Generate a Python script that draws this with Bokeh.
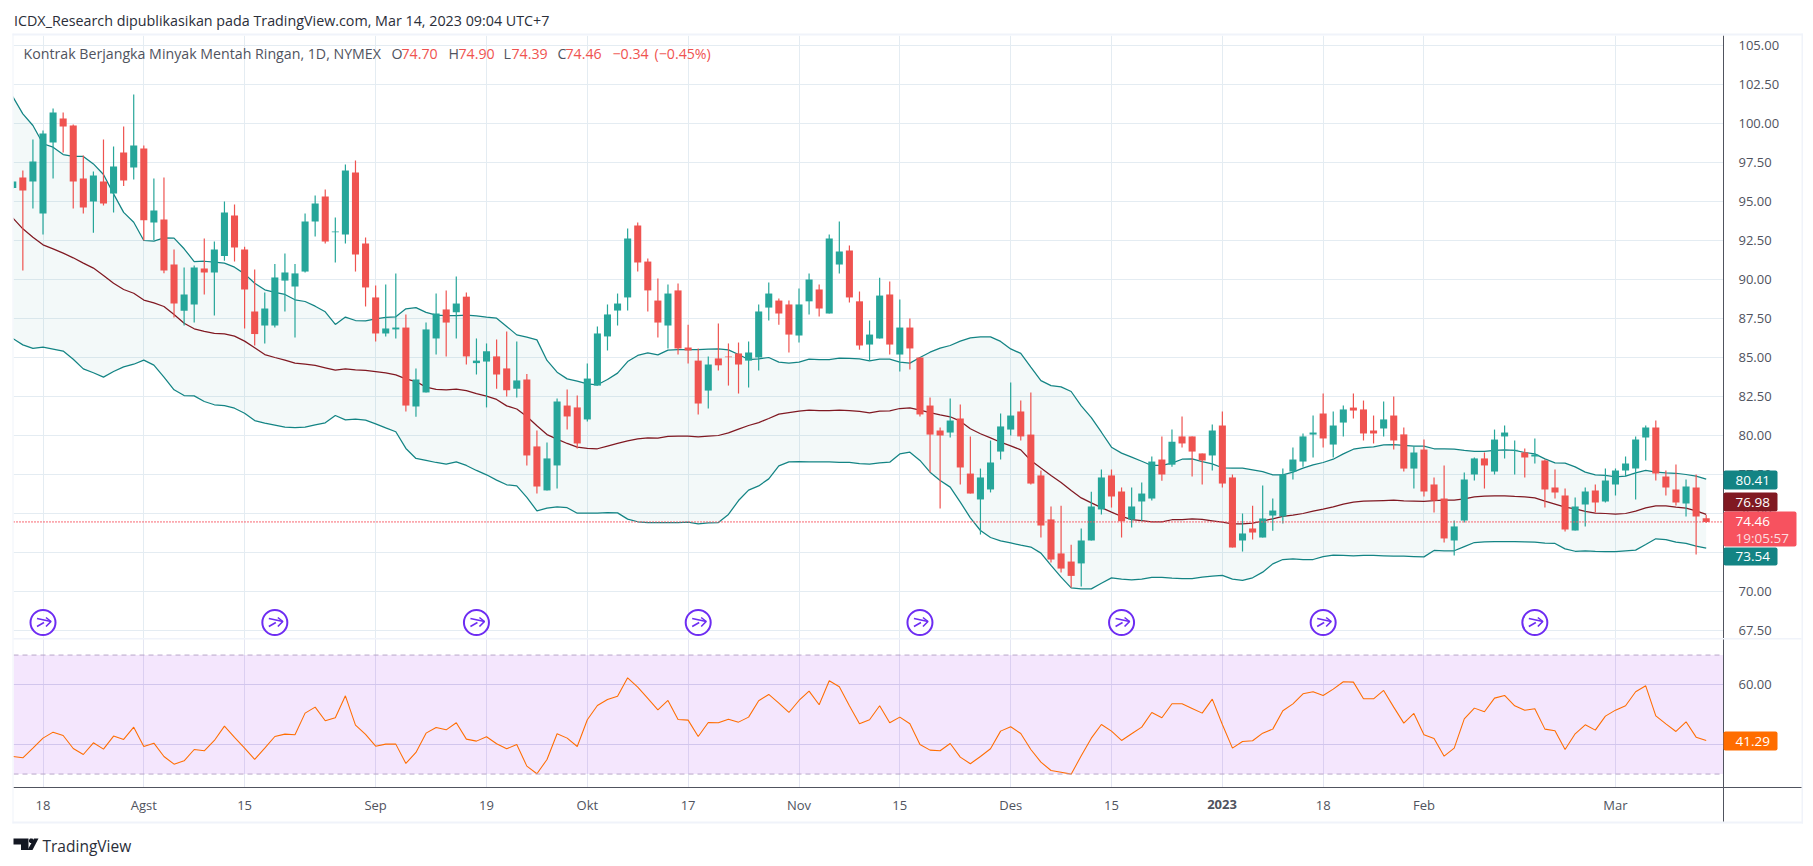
from bokeh.embed import file_html
from bokeh.resources import INLINE
from bokeh.plotting import figure
from bokeh.layouts import column
from bokeh.models import FixedTicker, Label, BoxAnnotation, Span, PolyAnnotation, Range1d, NumeralTickFormatter

# ---------- data ----------
first_index = -3
opens = [95.86,96.54,96.28,94.23,98.78,100.32,99.87,96.47,95.0,96.28,95.51,98.14,97.18,98.4,93.65,93.85,90.96,88.0,88.4,90.7,
 90.45,91.5,94.1,91.92,87.95,87.05,87.05,89.93,89.55,90.51,93.72,95.32,93.03,92.89,96.86,92.31,88.85,86.54,86.8,86.92,
 81.86,82.76,86.22,88.08,87.9,88.9,84.64,84.74,85.07,84.3,83.0,83.59,79.3,76.48,78.08,81.92,81.8,81.03,83.2,86.35,
 88.01,88.85,93.46,91.15,88.65,87.05,89.3,85.64,84.8,82.88,84.94,85.06,85.26,84.8,85.0,88.2,88.65,88.4,86.41,88.6,
 89.36,87.82,90.96,91.86,88.6,85.83,86.22,89.04,85.19,86.92,85.0,81.92,80.32,80.19,81.09,77.56,75.9,76.54,78.97,80.38,
 81.54,80.06,77.44,74.62,72.44,71.92,71.8,73.27,75.26,77.44,76.41,74.62,75.77,75.96,78.46,78.13,
 79.94,79.94,78.85,78.72,80.64,77.31,73.27,74.04,73.46,74.87,74.81,77.69,78.33,80.06,81.41,79.42,80.83,81.79,81.67,80.32,
 80.45,81.28,80.07,77.88,79.1,76.86,75.96,73.27,74.55,77.5,78.53,77.69,79.94,79.04,78.91,78.65,78.4,76.67,76.15,73.91,
 75.58,76.47,75.77,76.86,77.76,77.88,79.87,80.51,77.37,76.54,75.64,76.67,74.70]
closes = [96.28,95.70,97.56,99.36,100.70,99.81,96.28,94.62,96.67,94.87,97.24,96.35,98.59,93.8,94.42,90.58,88.46,89.04,90.77,90.45,
 91.92,94.3,92.05,89.36,86.5,88.14,90.13,90.45,90.39,93.72,94.87,92.44,93.08,96.99,91.6,89.49,86.54,86.86,86.92,81.92,
 83.59,86.8,87.82,87.24,88.46,85.07,84.8,85.4,83.91,82.9,83.53,78.72,76.73,78.53,82.18,81.22,79.49,83.65,86.54,87.76,
 88.46,92.63,91.09,89.3,87.24,89.1,85.58,85.45,82.05,84.55,84.5,85.02,84.55,85.32,87.95,89.1,87.82,86.47,88.4,90.0,
 88.14,92.63,91.8,88.85,85.77,86.47,88.97,85.83,86.92,85.58,81.35,80.06,80.0,80.96,77.95,76.28,77.31,78.27,80.58,81.28,
 79.94,76.92,74.23,72.05,71.47,71.0,73.27,75.45,77.31,76.09,74.5,75.45,76.28,78.33,77.5,79.6,
 79.49,78.97,78.4,80.32,76.92,72.82,73.72,73.78,74.68,75.19,77.5,78.46,79.94,80.19,79.81,80.64,81.67,81.6,80.13,80.13,
 81.03,79.68,77.88,78.91,76.41,75.83,73.4,74.17,77.18,78.53,78.08,79.74,80.19,79.08,78.59,78.78,76.54,76.35,73.97,75.45,
 76.41,75.71,77.12,77.76,78.2,79.74,80.51,77.56,76.67,75.71,76.73,74.81,74.46]
highs = [96.3,96.99,98.97,99.55,100.96,100.70,99.94,97.95,96.92,98.97,98.53,99.81,101.86,98.59,96.47,96.54,91.92,90.77,90.9,92.63,
 92.44,95.0,94.8,92.1,90.64,89.17,91.0,91.67,91.0,94.23,95.38,95.77,93.97,97.37,97.63,92.69,89.62,89.68,90.39,87.75,
 84.3,87.24,89.1,89.3,90.2,89.17,86.22,85.9,86.15,86.67,86.03,83.95,80.32,79.55,82.37,82.95,82.57,84.62,86.99,88.4,
 89.1,93.27,93.65,91.35,90.06,89.68,89.74,87.1,85.58,85.06,87.18,85.9,85.96,86.03,88.4,89.8,88.78,88.65,89.42,90.38,
 89.68,92.88,93.72,92.18,89.23,87.37,90.12,89.87,88.72,87.5,85.0,82.44,80.51,82.37,81.99,79.94,77.88,79.68,81.41,83.4,
 82.24,82.76,77.76,75.45,75.5,73.0,74.04,76.4,77.82,77.82,76.67,76.67,76.99,78.65,79.94,80.38,
 81.22,79.94,78.85,80.7,81.54,77.5,75.0,75.5,76.8,75.96,77.88,79.23,80.13,81.28,82.69,81.54,81.92,82.69,82.24,81.28,
 82.18,82.5,80.51,79.3,79.74,77.31,78.08,74.55,77.63,78.59,78.91,80.38,80.64,79.68,79.17,79.81,78.46,77.82,76.6,76.03,
 76.67,76.86,77.88,77.88,78.65,79.94,80.64,80.96,77.76,78.14,77.18,77.5,74.90]
lows = [95.8,90.58,94.55,92.89,96.47,98.14,94.55,94.23,93.0,94.74,94.3,96.0,96.41,92.5,92.54,90.4,87.56,87.05,87.24,89.04,
 87.69,91.2,91.15,86.86,85.77,85.9,86.92,87.95,86.28,90.45,92.76,92.31,91.09,92.31,90.51,88.27,86.03,86.35,86.22,81.54,
 81.2,82.76,85.2,85.07,86.22,84.55,83.91,81.8,83.0,82.5,82.44,78.08,76.28,76.48,76.6,80.39,79.17,80.9,83.2,85.45,
 87.05,88.01,90.51,87.95,86.28,85.58,85.19,84.62,81.35,81.73,84.17,83.2,82.69,83.08,84.17,87.37,87.1,85.32,85.96,87.76,
 87.63,87.82,90.38,88.52,85.5,84.8,86.22,85.19,84.1,84.23,81.22,77.63,75.32,79.87,76.86,76.28,73.65,76.35,78.46,80.0,
 79.68,76.86,73.46,71.86,71.22,70.26,70.32,73.27,74.94,75.38,73.46,74.1,74.5,75.83,77.1,78.0,
 79.23,77.37,76.86,77.76,76.67,72.82,72.56,73.33,73.46,73.9,74.36,77.18,78.0,78.59,79.23,78.59,79.94,81.09,79.68,79.49,
 79.94,79.1,77.69,76.6,76.09,75.06,73.14,72.31,74.42,77.12,76.6,77.5,78.53,77.5,77.31,78.2,75.39,75.96,73.85,73.91,
 74.17,75.06,75.71,76.15,77.37,75.9,78.4,77.12,76.15,75.51,74.81,72.37,74.39]
bb_upper = [101.73,100.62,99.87,98.7,98.48,98.01,97.89,97.89,97.41,96.73,95.49,94.3,93.67,92.5,92.46,92.67,92.65,91.97,91.15,91.17,
 91.11,91.05,90.79,90.36,89.76,89.34,89.17,89.04,88.7,88.59,88.29,87.93,87.12,87.59,87.37,87.35,87.48,87.57,87.61,88.12,
 88.2,87.89,87.71,87.69,87.69,87.71,87.67,87.59,87.52,86.99,86.45,86.3,86.13,84.81,84.06,83.63,83.48,83.31,83.25,
 83.59,84.0,84.74,85.13,85.3,85.17,85.47,85.51,85.51,85.51,85.53,85.55,85.49,85.19,84.87,84.91,85.0,84.7,84.64,84.7,
 84.89,84.87,84.87,84.96,84.94,84.91,84.79,84.89,84.89,84.7,84.64,85.0,85.34,85.6,85.77,86.05,86.26,86.32,86.32,86.03,
 85.55,85.26,84.38,83.52,83.2,83.12,82.82,81.9,81.15,80.21,79.25,78.87,78.61,78.35,78.08,78.08,78.23,
 78.48,78.5,78.33,78.18,77.93,77.91,77.91,77.8,77.69,77.48,77.48,77.65,77.91,78.12,78.27,78.48,78.82,79.12,79.23,79.27,
 79.4,79.42,79.36,79.32,79.32,79.15,79.15,79.12,79.04,78.98,78.98,79.04,79.08,79.04,78.91,78.82,78.5,78.25,78.23,77.99,
 77.65,77.48,77.44,77.35,77.39,77.61,77.76,77.65,77.61,77.58,77.5,77.39,77.2]
bb_mid = [93.95,93.25,92.71,92.22,91.96,91.69,91.39,91.05,90.73,90.26,89.76,89.36,89.12,88.68,88.5,88.27,87.76,87.2,86.84,86.67,
 86.54,86.52,86.37,86.05,85.62,85.19,85.0,84.83,84.64,84.57,84.49,84.34,84.19,84.27,84.21,84.17,84.1,84.02,83.89,83.63,
 83.46,83.1,82.95,82.93,82.97,82.88,82.69,82.52,82.31,81.9,81.7,81.22,80.62,80.06,79.77,79.49,79.25,
 79.17,79.15,79.32,79.49,79.66,79.79,79.85,79.83,79.94,79.96,79.96,79.91,79.96,80.0,80.17,80.41,80.64,80.83,81.09,81.37,
 81.47,81.56,81.62,81.6,81.6,81.62,81.6,81.54,81.45,81.56,81.58,81.73,81.77,81.62,81.47,81.32,81.2,80.92,80.43,80.11,
 79.85,79.57,79.34,79.08,78.4,77.91,77.44,76.99,76.47,76.0,75.68,75.38,75.09,74.81,74.61,74.55,74.46,74.46,74.6,
 74.6,74.66,74.62,74.53,74.44,74.34,74.34,74.38,74.51,74.66,74.81,74.89,75.0,75.15,75.28,75.43,75.6,75.73,75.79,75.81,
 75.83,75.85,75.81,75.79,75.77,75.83,75.85,75.85,75.94,76.07,76.11,76.13,76.13,76.09,76.07,76.0,75.79,75.6,75.41,75.3,
 75.13,75.02,75.0,74.96,75.0,75.15,75.36,75.49,75.49,75.41,75.34,75.17,74.94]
bb_lower = [86.22,85.81,85.58,85.66,85.54,85.41,84.89,84.27,84.02,83.74,84.1,84.4,84.57,84.83,84.51,83.74,82.93,82.56,82.54,
 82.18,81.97,81.92,81.75,81.43,80.96,80.79,80.66,80.53,80.51,80.53,80.68,80.81,81.28,81.0,81.05,80.98,80.75,80.49,80.24,
 79.17,78.53,78.4,78.27,78.16,78.31,78.08,77.76,77.48,77.14,76.84,76.77,76.03,75.17,75.34,75.43,75.37,75.02,
 75.02,75.02,75.06,75.04,74.64,74.47,74.42,74.42,74.42,74.42,74.44,74.34,74.4,74.42,74.94,75.83,76.5,76.77,77.22,78.05,
 78.31,78.33,78.31,78.31,78.31,78.27,78.27,78.2,78.16,78.25,78.29,78.82,78.93,78.4,77.65,77.12,76.69,75.73,74.72,73.91,
 73.46,73.25,73.12,72.97,72.85,72.46,71.67,70.92,70.23,70.17,70.17,70.53,70.87,70.79,70.75,70.79,70.9,70.9,70.85,
 70.83,70.83,70.92,70.98,71.03,70.79,70.71,70.88,71.24,71.77,72.05,72.09,72.05,72.05,72.24,72.33,72.31,72.29,72.31,72.31,
 72.29,72.26,72.26,72.24,72.22,72.63,72.61,72.61,72.88,73.14,73.18,73.2,73.2,73.2,73.18,73.16,73.1,73.08,72.73,72.58,
 72.61,72.58,72.56,72.56,72.61,72.65,73.01,73.38,73.32,73.16,73.08,72.91,72.78]
rsi = [35.91,35.46,38.71,42.07,44.09,42.97,38.6,36.58,40.5,38.38,42.75,41.63,45.77,39.27,40.39,35.91,33.33,34.45,38.26,37.82,
 41.29,46.11,42.3,38.71,34.9,38.71,42.63,43.42,43.19,50.48,52.49,47.9,48.91,56.3,46.44,43.31,39.38,40.06,40.06,33.56,
 37.26,43.75,45.66,44.87,47.23,41.74,41.07,42.52,40.17,38.49,39.94,32.66,30.09,34.9,43.53,42.07,39.27,48.24,53.05,55.07,
 56.19,62.35,59.22,55.41,51.6,54.73,48.35,48.12,42.63,47.34,47.23,48.46,47.45,49.13,54.62,56.75,53.84,50.7,54.73,57.87,
 53.28,61.34,59.33,52.94,46.89,48.24,52.94,47.23,49.13,
 46.89,39.94,38.04,37.82,40.28,35.69,33.45,35.91,38.49,44.43,45.88,43.64,38.26,34.0,31.2,30.64,29.97,36.14,42.07,46.67,
 44.43,41.29,43.53,45.77,50.7,48.91,53.61,53.61,52.05,50.48,55.18,46.67,38.71,40.95,41.18,43.75,45.1,51.26,53.61,56.97,
 57.65,56.41,58.54,61.01,60.9,55.29,55.29,58.1,52.49,47.12,50.36,43.19,41.96,36.02,38.71,48.57,52.16,50.92,55.52,56.41,
 52.94,51.48,51.93,45.1,44.54,38.26,43.53,46.56,44.76,49.47,51.48,52.94,57.65,59.66,49.58,46.89,44.31,47.56,42.41,41.29]

time_ticks = [0,10,20,33,44,54,64,75,85,96,106,117,127,137,156]
time_labels = ["18","Agst","15","Sep","19","Okt","17","Nov","15","Des","15","","18","Feb","Mar"]
price_ticks = [67.5,70,72.5,75,77.5,80,82.5,85,87.5,90,92.5,95,97.5,100,102.5,105]
rsi_ticks = [60, 40]
icon_index = [0,23,43,65,87,107,127,148]
last_price = 74.46

header_text = "ICDX_Research dipublikasikan pada TradingView.com, Mar 14, 2023 09:04 UTC+7"
legend_parts = [("Kontrak Berjangka Minyak Mentah Ringan, 1D, NYMEX",23,"grey"),("O",391,"grey"),("74.70",401,"red"),
                ("H",448,"grey"),("74.90",458,"red"),("L",503,"grey"),("74.39",511,"red"),("C",557,"grey"),
                ("74.46",565,"red"),("\u22120.34",612,"red"),("(\u22120.45%)",654,"red")]

# ---------- styling ----------
FONT = "Open Sans"
GRID = "#e4ecf2"
EDGE = "#f0f3fa"
DARK = "#50535e"
UP = "#26a69a"
DOWN = "#ef5350"
TEAL = "#138484"
MAROON = "#801922"
RED_TAG = "#f7525f"
ORANGE = "#ff6d00"
PURPLE = "#6d2cf2"

X0, DX = 42.5, 10.08
LEFT, RIGHT, AXISX = 13, 1803, 1723
PAGE_H = 858
def xp(px): return (px - X0) / DX
def ya(py): return 105 - (py - 45) / 15.6
def yb(py): return 60 - (py - 684.3) / 2.975

xr = Range1d(xp(LEFT), xp(AXISX))
idx = list(range(first_index, first_index + len(opens)))

def base(**kw):
    p = figure(output_backend="svg", toolbar_location=None, x_range=xr, y_axis_location="right",
               frame_width=AXISX - LEFT, min_border_left=LEFT, min_border_right=RIGHT - AXISX,
               background_fill_color="white", border_fill_color="white", outline_line_color=None, **kw)
    p.xaxis.ticker = FixedTicker(ticks=time_ticks)
    p.xgrid.ticker = FixedTicker(ticks=time_ticks)
    p.xgrid.grid_line_color = GRID
    p.ygrid.grid_line_color = GRID
    for ax in (p.yaxis[0], p.xaxis[0]):
        ax.major_tick_line_color = None
        ax.minor_tick_line_color = None
        ax.major_label_text_font = FONT
        ax.major_label_text_font_size = "13px"
        ax.major_label_text_color = DARK
        ax.axis_line_color = DARK
    p.yaxis[0].major_label_standoff = 9
    return p

# ---------- price pane ----------
pa = base(height=638, frame_height=603, min_border_top=35, min_border_bottom=0, y_range=Range1d(ya(638), ya(35)))
pa.xaxis.visible = False
pa.yaxis[0].ticker = FixedTicker(ticks=price_ticks)
pa.yaxis[0].formatter = NumeralTickFormatter(format="0.00")

pa.varea(idx, bb_lower, bb_upper, fill_color=TEAL, fill_alpha=0.05)
pa.line(idx, bb_upper, line_color=TEAL, line_width=1.25)
pa.line(idx, bb_lower, line_color=TEAL, line_width=1.25)
pa.line(idx, bb_mid, line_color=MAROON, line_width=1.25)
pa.add_layout(Span(location=last_price, dimension="width", line_color=RED_TAG, line_dash="1 2", line_width=1.6))

colors = [UP if c >= o else DOWN for o, c in zip(opens, closes)]
pa.segment(idx, highs, idx, lows, line_color=colors, line_width=1.2)
pa.vbar(idx, 0.7, [max(o, c) for o, c in zip(opens, closes)], [min(o, c) for o, c in zip(opens, closes)],
        fill_color=colors, line_color=colors, line_width=0)

icon_y = ya(622)
pa.scatter(icon_index, [icon_y] * len(icon_index), marker="circle", size=25, fill_color="white", fill_alpha=0.6,
           line_color=PURPLE, line_width=2)
for i in icon_index:
    ox = []
    oy = []
    for seg in ([(-6, -4), (8, -1)], [(3, -5), (8, -1), (3, 4)], [(-6, 4), (1, 0)]):
        ox.append([i + dx / DX for dx, dy in seg])
        oy.append([icon_y - dy / 15.6 for dx, dy in seg])
    pa.multi_line(ox, oy, line_color=PURPLE, line_width=1.6)

# ---------- RSI pane ----------
pb = base(height=PAGE_H - 638, frame_height=149, min_border_top=0, min_border_bottom=PAGE_H - 787,
          y_range=Range1d(yb(787), yb(638)))
pb.yaxis[0].ticker = FixedTicker(ticks=rsi_ticks)
pb.yaxis[0].formatter = NumeralTickFormatter(format="0.00")
pb.xaxis[0].major_label_overrides = {t: l for t, l in zip(time_ticks, time_labels)}
pb.xaxis[0].major_label_standoff = 2
pb.ygrid.grid_line_color = "#dadcee"
pb.xgrid.grid_line_color = "#e4e6f2"

pb.add_layout(BoxAnnotation(bottom=30, top=70, fill_color="#9105eb", fill_alpha=0.1, line_color=None, level="underlay"))
for lvl in (70, 30):
    pb.add_layout(Span(location=lvl, dimension="width", line_color="#b9a6c9", line_dash="5 4", line_width=1))
pb.line(idx, rsi, line_color=ORANGE, line_width=1.05)

# ---------- transparent page-sized layer: header, footer, value tags, page frame ----------
ov = figure(output_backend="svg", toolbar_location=None, width=RIGHT, height=PAGE_H,
            x_range=Range1d(0, RIGHT), y_range=Range1d(PAGE_H, 0), min_border=0,
            background_fill_alpha=0, border_fill_alpha=0, outline_line_color=None,
            margin=(-PAGE_H, 0, 0, 0), frame_align=False)
ov.axis.visible = False
ov.grid.visible = False

def text(px, py, s, color=DARK, size="13px", align="left", style="normal"):
    ov.add_layout(Label(x=px, y=py, text=s, text_color=color, text_font=FONT, text_font_size=size,
                        text_align=align, text_baseline="middle", text_font_style=style, level="overlay"))

def box(x1, x2, y1, y2, color, radius=0):
    ov.add_layout(BoxAnnotation(left=x1, right=x2, top=y1, bottom=y2, fill_color=color, fill_alpha=1,
                                line_color=None, level="overlay", border_radius=radius))

def poly(pts, color):
    ov.add_layout(PolyAnnotation(xs=[a for a, b in pts], ys=[b for a, b in pts], fill_color=color,
                                 fill_alpha=1, line_color=None, level="overlay"))

text(13.5, 20, header_text, color="#2a2e39", size="14.3px")
for s, px, kind in legend_parts:
    text(px, 53, s, color=DARK if kind == "grey" else DOWN, size="14.2px")

box(12, RIGHT - 1, 33, 35, EDGE)
box(12, 13, 33, 823, EDGE)
box(1801, 1803, 33, 823, EDGE)
box(12, 1803, 821, 823, EDGE)
box(13, 1801, 637.5, 639, EDGE)
box(AXISX - 0.5, AXISX + 0.5, 787, 821, DARK)
box(AXISX, 1801, 786.5, 787.5, DARK)

text(1221.5, 804, "2023", size="13px", align="center", style="bold")

for y1, y2, col, txt in ((470, 489, TEAL, "80.41"), (492, 511, MAROON, "76.98"), (547, 565, TEAL, "73.54")):
    box(AXISX, 1777, y1, y2, col, radius=2)
    text(1735, (y1 + y2) / 2, txt, color="white", size="13.5px")
box(AXISX, 1796, 511, 546, RED_TAG, radius=2)
text(1735, 521, "74.46", color="white", size="13.5px")
text(1735, 537, "19:05:57", color="#fcdcdf", size="13.5px")
box(AXISX, 1777, 731, 750, ORANGE, radius=2)
text(1735, 741, "41.29", color="white", size="13.5px")

LOGO = "#131722"
poly([(13, 838), (28, 838), (28, 849.5), (20.5, 849.5), (20.5, 844), (13, 844)], LOGO)
poly([(29.5, 838), (32, 838), (33, 839.5), (33, 841), (32, 842.5), (29.5, 842.5), (28.5, 841), (28.5, 839.5)], LOGO)
poly([(33.5, 838), (38, 838), (32, 849.5), (27, 849.5)], LOGO)
text(42, 845, "TradingView", color="#2a2e39", size="15.5px")

page = column(pa, pb, ov, spacing=0)
open("out.html", "w").write(file_html(page, INLINE))
